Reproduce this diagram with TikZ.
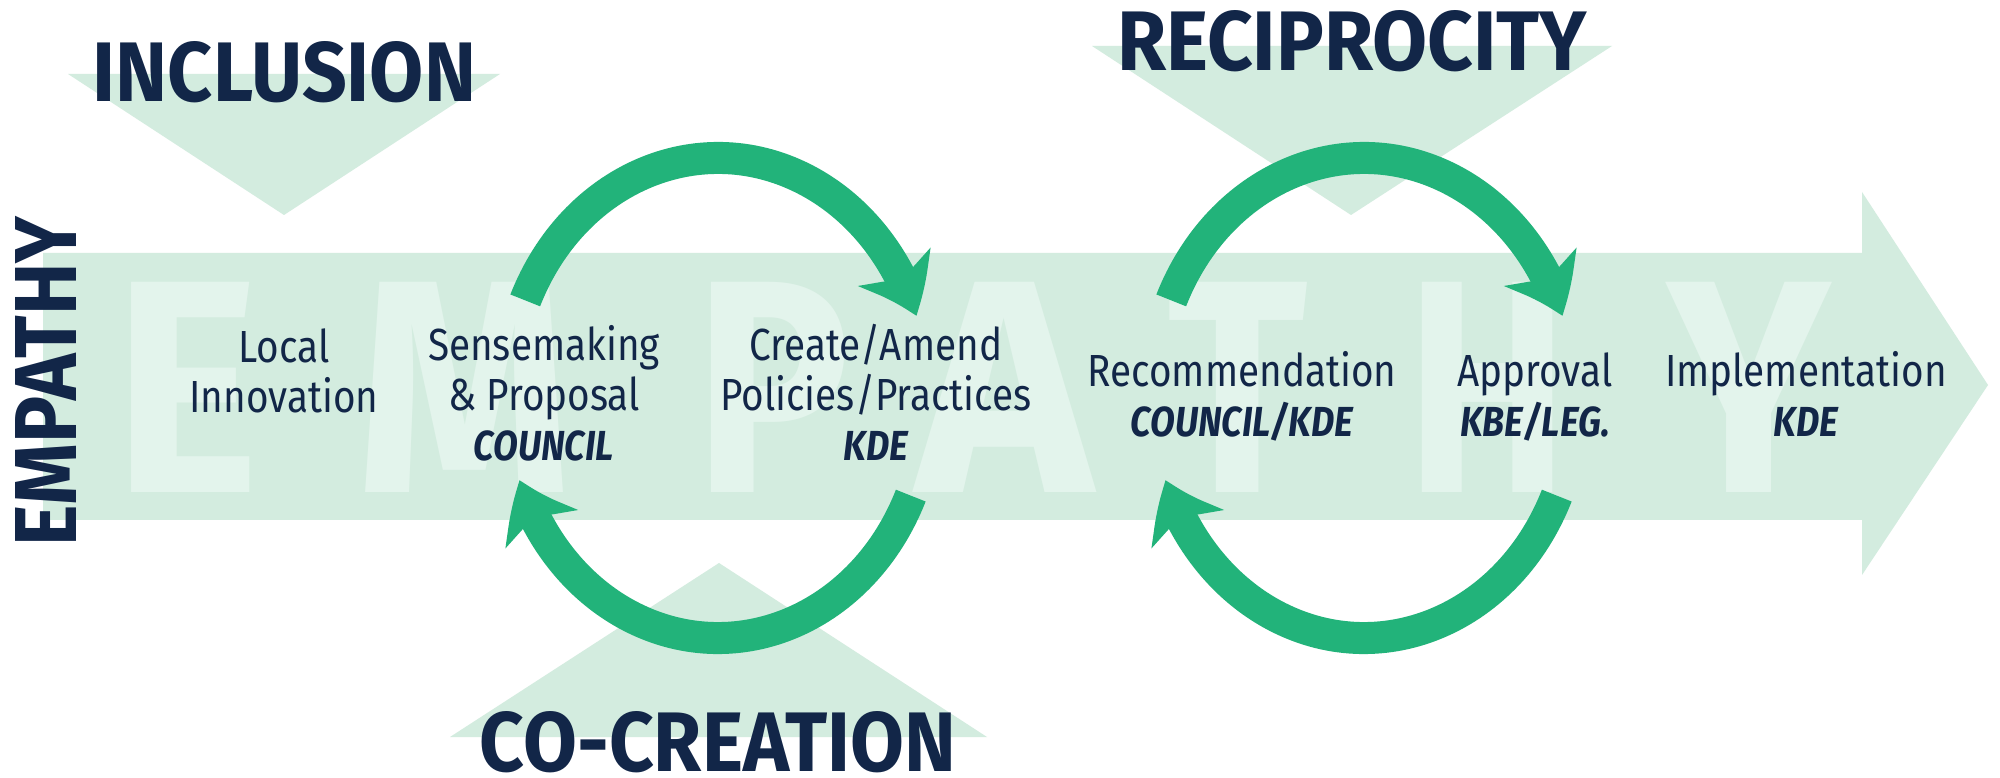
\documentclass[tikz,border=0pt]{standalone}
\usepackage{fontspec}
\setmainfont{Fira Sans}
\newfontfamily\lblfont[FakeStretch=0.86]{Fira Sans}
\usetikzlibrary{arrows.meta,bending}
\definecolor{navy}{RGB}{18,38,72}
\definecolor{pale}{RGB}{211,236,223}
\definecolor{wm}{RGB}{227,244,236}
\definecolor{grn}{RGB}{34,179,122}
\newcommand\kwd[1]{{\bfseries\itshape\fontsize{42pt}{50pt}\selectfont #1}}
\begin{document}
\begin{tikzpicture}[x=1pt,y=1pt,
  lbl/.style={font=\lblfont\fontsize{45pt}{50pt}\selectfont, text=navy, align=center, anchor=base, inner sep=0pt},
  wmletter/.style={text=wm, anchor=base, inner sep=0pt, font=\bfseries},
  title/.style={text=navy, anchor=base, inner sep=0pt, font=\bfseries},
  loop/.style={draw=grn, line width=32pt, -{Stealth[length=54pt,width=80pt,inset=14pt,bend]}},
  band/.style={fill=pale, draw=none}
]
\useasboundingbox (0,0) rectangle (2000,777);
\fill[white] (0,0) rectangle (2000,777);

% triangles
\fill[band] (68,703) -- (500,703) -- (284,562) -- cycle;
\fill[band] (1092,731) -- (1612,731) -- (1351,562) -- cycle;
\fill[band] (450,40) -- (987,40) -- (719,214) -- cycle;

% big arrow
\fill[band] (43,524) -- (1862,524) -- (1862,585) -- (1988,392) -- (1862,202) -- (1862,257) -- (43,257) -- cycle;

% watermark letters
\node[wmletter] (wE) at (187,284) {\resizebox{146pt}{210pt}{E}};
\node[wmletter] (wM) at (465,284) {\resizebox{216pt}{210pt}{M}};
\node[wmletter] (wP) at (772,284) {\resizebox{156pt}{210pt}{P}};
\node[wmletter] (wA) at (1005,284) {\resizebox{176pt}{210pt}{A}};
\node[wmletter] (wT) at (1238,284) {\resizebox{140pt}{210pt}{T}};
\node[wmletter] (wH) at (1488,284) {\resizebox{162pt}{210pt}{H}};
\node[wmletter] (wY) at (1749,284) {\resizebox{163pt}{210pt}{Y}};

% loops
\coordinate (lc) at (718,379);
\coordinate (rc) at (1364,379);
\path (lc) ++(156:211pt and 240pt) coordinate (l1s);
\path (lc) ++(-24:211pt and 240pt) coordinate (l2s);
\path (rc) ++(156:211pt and 240pt) coordinate (r1s);
\path (rc) ++(-24:211pt and 240pt) coordinate (r2s);
\draw[loop] (l1s) arc[start angle=156, end angle=20, x radius=211pt, y radius=240pt];
\draw[loop] (l2s) arc[start angle=-24, end angle=-160, x radius=211pt, y radius=240pt];
\draw[loop] (r1s) arc[start angle=156, end angle=20, x radius=211pt, y radius=240pt];
\draw[loop] (r2s) arc[start angle=-24, end angle=-160, x radius=211pt, y radius=240pt];

% titles
\node[title] (inclusion) at (284.5,675) {\resizebox{383pt}{60pt}{INCLUSION}};
\node[title] (recip) at (1352,706) {\resizebox{470pt}{60pt}{RECIPROCITY}};
\node[title] (cocre) at (718,6) {\resizebox{476pt}{60pt}{CO-CREATION}};
\node[title, rotate=90] (empathy) at (76,395.5) {\resizebox{330pt}{61pt}{EMPATHY}};

% labels (anchor = baseline of last line)
\node[lbl] (local) at (284,364) {Local\\Innovation};
\node[lbl] (sense) at (544,316) {Sensemaking\\\& Proposal\\\kwd{COUNCIL}};
\node[lbl] (create) at (876,316) {Create/Amend\\Policies/Practices\\\kwd{KDE}};
\node[lbl] (recom) at (1242,340) {Recommendation\\\kwd{COUNCIL/KDE}};
\node[lbl] (appr) at (1535,340) {Approval\\\kwd{KBE/LEG.}};
\node[lbl] (impl) at (1806,340) {Implementation\\\kwd{KDE}};
\end{tikzpicture}
\end{document}
